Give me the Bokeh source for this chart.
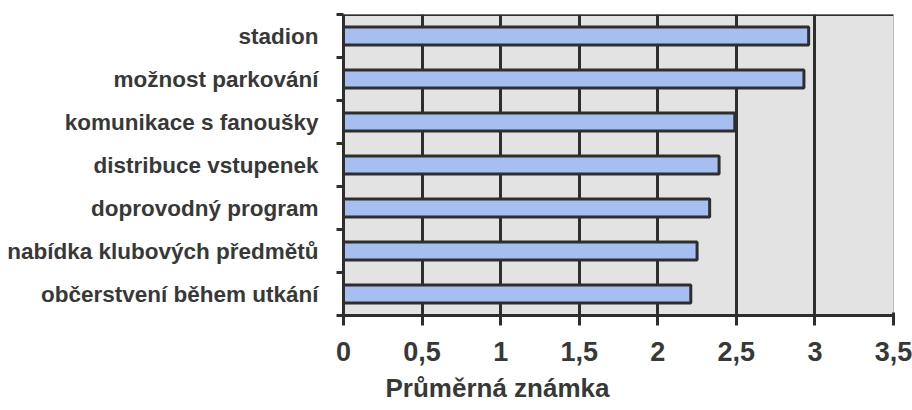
from bokeh.plotting import figure
from bokeh.models import Range1d, FixedTicker, CustomJSTickFormatter, Span, Title
from bokeh.embed import file_html
from bokeh.resources import INLINE

categories = ["stadion", "možnost parkování", "komunikace s fanoušky",
              "distribuce vstupenek", "doprovodný program",
              "nabídka klubových předmětů", "občerstvení během utkání"]
values = [2.96, 2.93, 2.49, 2.39, 2.33, 2.25, 2.21]
x_ticks = [0, 0.5, 1, 1.5, 2, 2.5, 3, 3.5]
x_title = "Průměrná známka"

n = len(categories)
ypos = [n - i - 0.5 for i in range(n)]

FONT = "Liberation Sans"
DARK = "#2e2e2e"
TXT = "#383838"

p = figure(width=912, height=410, output_backend="svg", toolbar_location=None,
           x_range=Range1d(0, 3.5), y_range=Range1d(0, n),
           min_border_left=343, min_border_right=19, min_border_top=14,
           min_border_bottom=95)
p.background_fill_color = "#e3e3e3"
p.border_fill_color = "white"
p.outline_line_color = "#bdbdbd"
p.outline_line_width = 1

p.hbar(y=ypos, right=values, left=0, height=0.42,
       fill_color="#a7bff0", line_color=DARK, line_width=3)

# x axis
xa = p.xaxis[0]
xa.ticker = FixedTicker(ticks=x_ticks, minor_ticks=[])
xa.formatter = CustomJSTickFormatter(code="return tick.toString().replace('.', ',');")
xa.axis_line_color = DARK
xa.axis_line_width = 3
xa.major_tick_line_color = DARK
xa.major_tick_line_width = 3
xa.major_tick_in = 3
xa.major_tick_out = 10
xa.major_label_standoff = 16
xa.major_label_text_font = FONT
xa.major_label_text_font_size = "27px"
xa.major_label_text_font_style = "bold"
xa.major_label_text_color = TXT

# y axis
ya = p.yaxis[0]
ya.ticker = FixedTicker(ticks=ypos, minor_ticks=list(range(n + 1)))
ya.major_label_overrides = {float(y): c for y, c in zip(ypos, categories)}
ya.axis_line_color = DARK
ya.axis_line_width = 3
ya.major_tick_in = 0
ya.major_tick_out = 0
ya.minor_tick_in = 0
ya.minor_tick_out = 7
ya.minor_tick_line_color = DARK
ya.minor_tick_line_width = 3
ya.major_label_standoff = 18
ya.major_label_text_font = FONT
ya.major_label_text_font_size = "22.5px"
ya.major_label_text_font_style = "bold"
ya.major_label_text_color = TXT

# grid
p.ygrid.grid_line_color = None
p.xgrid.ticker = FixedTicker(ticks=[t for t in x_ticks if 0 < t < 3.5])
p.xgrid.grid_line_color = DARK
p.xgrid.grid_line_width = 3
p.xgrid.level = "underlay"

p.add_layout(Span(location=n, dimension="width", line_color=DARK, line_width=3))

p.add_layout(Title(text=x_title, align="left", offset=42, text_font=FONT,
                   text_font_size="26px", text_font_style="bold",
                   text_color=TXT, standoff=14), "below")

open("out.html", "w").write(file_html(p, INLINE))
